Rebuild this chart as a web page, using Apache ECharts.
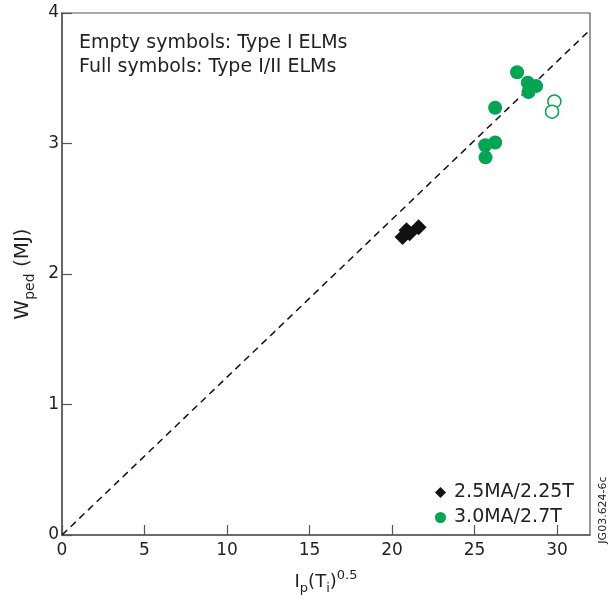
<!DOCTYPE html>
<html>
<head>
<meta charset="utf-8">
<script src="https://cdn.jsdelivr.net/npm/echarts@6/dist/echarts.min.js"></script>
<style>
html,body{margin:0;padding:0;background:#fff;}
#chart{width:613px;height:600px;}
</style>
</head>
<body>
<div id="chart"></div>
<script>
// ---- data ----
var seriesNames = ['2.5MA/2.25T', '3.0MA/2.7T'];
// 2.5MA/2.25T, full symbols (Type I/II)
var lowX = [20.64, 20.88, 21.07, 21.61];
var lowY = [2.283, 2.336, 2.313, 2.358];
// 3.0MA/2.7T, full symbols (Type I/II)
var highFullX = [27.58, 28.23, 28.73, 28.27, 26.25, 25.65, 26.25, 25.67];
var highFullY = [3.546, 3.466, 3.44, 3.395, 3.274, 2.987, 3.008, 2.894];
// 3.0MA/2.7T, empty symbols (Type I)
var highEmptyX = [29.84, 29.70];
var highEmptyY = [3.322, 3.244];
// dashed reference line
var refX = [0, 32];
var refY = [0, 3.87];
var xTicks = [0, 5, 10, 15, 20, 25, 30];
var yTicks = [0, 1, 2, 3, 4];
var noteLines = ['Empty symbols: Type I ELMs', 'Full symbols: Type I/II ELMs'];
var figId = 'JG03.624-6c';

function zip(a, b) { return a.map(function (v, i) { return [v, b[i]]; }); }

var green = '#00a651';
var textCol = '#231f20';
var font = 'DejaVu Sans';

var chart = echarts.init(document.getElementById('chart'), null, {renderer: 'canvas'});
chart.setOption({
  backgroundColor: '#fff',
  animation: false,
  textStyle: {fontFamily: font},
  grid: {left: 62, right: 23, top: 13, bottom: 57, show: true, borderColor: '#555', borderWidth: 1.2},
  xAxis: {
    type: 'value', min: 0, max: 32, interval: 5,
    axisLine: {lineStyle: {color: '#555', width: 1.5}},
    axisTick: {inside: true, length: 10, lineStyle: {color: '#555', width: 1.2}},
    axisLabel: {color: textCol, fontSize: 17, fontFamily: font, margin: 7, showMaxLabel: false,
      formatter: function (v) { return xTicks.indexOf(v) >= 0 ? String(v) : ''; }},
    splitLine: {show: false},
    name: '{a|I}{sub|p}{a|(T}{sub|i}{a|)}{sup|0.5}',
    nameLocation: 'middle', nameGap: 34,
    nameTextStyle: {rich: {
      a: {fontSize: 18, fontFamily: font, color: textCol, lineHeight: 26},
      sub: {fontSize: 13, fontFamily: font, color: textCol, lineHeight: 13, verticalAlign: 'bottom'},
      sup: {fontSize: 13, fontFamily: font, color: textCol, lineHeight: 13, verticalAlign: 'top'}
    }}
  },
  yAxis: {
    type: 'value', min: 0, max: 4, interval: 1,
    axisLine: {lineStyle: {color: '#555', width: 1.5}},
    axisTick: {inside: true, length: 10, lineStyle: {color: '#555', width: 1.2}},
    axisLabel: {color: textCol, fontSize: 17, fontFamily: font, margin: 3,
      formatter: function (v) { return yTicks.indexOf(v) >= 0 ? String(v) : ''; }},
    splitLine: {show: false},
    name: '{a|W}{sub|ped}{a| (MJ)}',
    nameLocation: 'middle', nameGap: 22,
    nameTextStyle: {rich: {
      a: {fontSize: 20, fontFamily: font, color: textCol, lineHeight: 28},
      sub: {fontSize: 14, fontFamily: font, color: textCol, lineHeight: 14, verticalAlign: 'bottom'}
    }}
  },
  legend: {
    orient: 'vertical', left: 430, top: 478,
    itemWidth: 11, itemHeight: 11, itemGap: 6,
    data: [{name: seriesNames[0], icon: 'diamond', itemStyle: {color: '#111'}},
           {name: seriesNames[1], icon: 'circle', itemStyle: {color: green}}],
    textStyle: {fontSize: 19, fontFamily: font, color: textCol, lineHeight: 19, padding: [0, 0, 0, 3]}
  },
  graphic: [
    {type: 'text', left: 79, top: 31, style: {text: noteLines.join('\n'), fontSize: 19, fontFamily: font, fill: textCol, lineHeight: 24}},
    {type: 'text', x: 603, y: 510, rotation: Math.PI / 2, style: {text: figId, fontSize: 11, fontFamily: font, fill: textCol, align: 'center', verticalAlign: 'middle'}}
  ],
  series: [
    {type: 'line', name: 'ref', data: zip(refX, refY), symbol: 'none', silent: true,
      lineStyle: {color: '#111', width: 1.5, type: [7, 5]}, z: 1},
    {type: 'scatter', name: seriesNames[0], data: zip(lowX, lowY), symbol: 'diamond', symbolSize: 16,
      itemStyle: {color: '#111', opacity: 1}, z: 3},
    {type: 'scatter', name: seriesNames[1], data: zip(highFullX, highFullY), symbol: 'circle', symbolSize: 14,
      itemStyle: {color: green, opacity: 1}, z: 3},
    {type: 'scatter', name: 'empty', data: zip(highEmptyX, highEmptyY), symbol: 'circle', symbolSize: 13,
      itemStyle: {color: '#fff', borderColor: green, borderWidth: 1.5, opacity: 1}, z: 3}
  ]
});
</script>
</body>
</html>
